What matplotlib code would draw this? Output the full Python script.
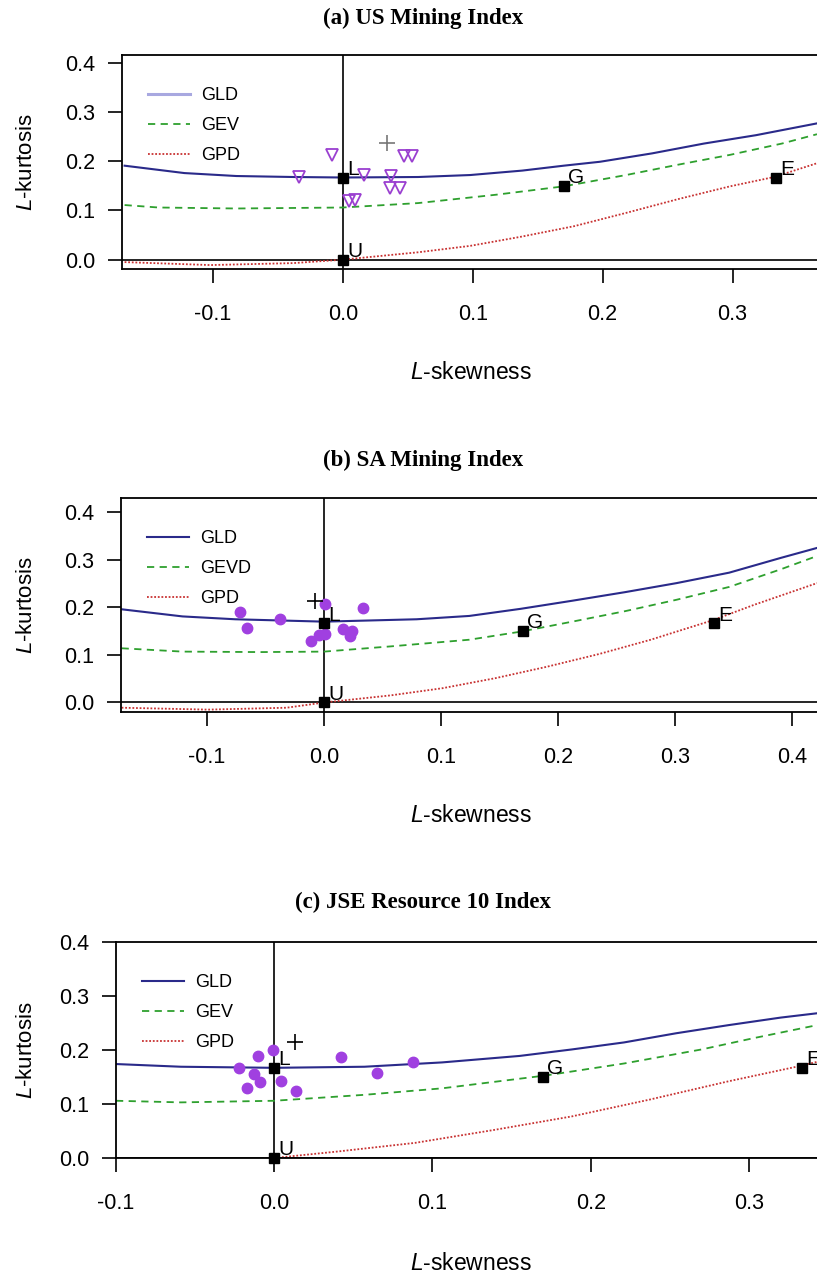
import numpy as np
import matplotlib
matplotlib.use('Agg')
import matplotlib.pyplot as plt
from matplotlib.lines import Line2D

plt.rcParams['font.family'] = ['Liberation Sans', 'DejaVu Sans']
plt.rcParams['mathtext.fontset'] = 'custom'
plt.rcParams['mathtext.it'] = 'Liberation Sans:italic'

# ---- panel (a) US Mining Index ----
gld_a_x = [-0.168, -0.122, -0.082, -0.038, 0.0, 0.058, 0.098, 0.138, 0.170, 0.198, 0.238, 0.278, 0.318, 0.365]
gld_a_y = [0.191, 0.176, 0.170, 0.168, 0.167, 0.168, 0.172, 0.181, 0.191, 0.199, 0.216, 0.236, 0.253, 0.277]
gev_a_x = [-0.168, -0.142, -0.082, 0.0, 0.058, 0.118, 0.170, 0.218, 0.258, 0.298, 0.338, 0.365]
gev_a_y = [0.111, 0.106, 0.104, 0.106, 0.115, 0.132, 0.149, 0.172, 0.193, 0.213, 0.236, 0.255]
gpd_a_x = [-0.168, -0.102, -0.038, 0.0, 0.058, 0.098, 0.138, 0.178, 0.218, 0.258, 0.298, 0.332, 0.365]
gpd_a_y = [-0.005, -0.011, -0.007, 0.0, 0.015, 0.028, 0.047, 0.068, 0.095, 0.123, 0.149, 0.168, 0.196]
obs_a_x = [-0.034, -0.008, 0.016, 0.037, 0.036, 0.044, 0.047, 0.053, 0.005, 0.009]
obs_a_y = [0.168, 0.212, 0.172, 0.170, 0.146, 0.146, 0.210, 0.210, 0.120, 0.122]
avg_a = (0.034, 0.238)

# ---- panel (b) SA Mining Index ----
gld_b_x = [-0.173, -0.121, -0.076, 0.0, 0.079, 0.124, 0.168, 0.212, 0.257, 0.301, 0.346, 0.390, 0.421]
gld_b_y = [0.196, 0.181, 0.175, 0.170, 0.175, 0.182, 0.197, 0.214, 0.232, 0.251, 0.273, 0.304, 0.325]
gev_b_x = [-0.173, -0.121, -0.054, 0.0, 0.057, 0.124, 0.168, 0.212, 0.257, 0.301, 0.346, 0.390, 0.421]
gev_b_y = [0.114, 0.107, 0.106, 0.107, 0.118, 0.132, 0.149, 0.170, 0.192, 0.216, 0.243, 0.280, 0.308]
gpd_b_x = [-0.173, -0.099, -0.032, 0.0, 0.057, 0.101, 0.146, 0.190, 0.235, 0.279, 0.332, 0.368, 0.421]
gpd_b_y = [-0.011, -0.015, -0.011, 0.0, 0.015, 0.030, 0.051, 0.075, 0.102, 0.132, 0.173, 0.206, 0.251]
obs_b_x = [-0.072, -0.066, -0.038, 0.001, 0.033, -0.011, -0.004, 0.001, 0.016, 0.024, 0.022]
obs_b_y = [0.190, 0.156, 0.176, 0.207, 0.198, 0.129, 0.141, 0.144, 0.154, 0.151, 0.140]
avg_b = (-0.008, 0.214)

# ---- panel (c) JSE Resource 10 Index ----
gld_c_x = [-0.100, -0.059, 0.0, 0.057, 0.106, 0.155, 0.188, 0.221, 0.254, 0.287, 0.320, 0.343]
gld_c_y = [0.174, 0.169, 0.167, 0.169, 0.177, 0.189, 0.201, 0.214, 0.231, 0.246, 0.260, 0.268]
gev_c_x = [-0.100, -0.059, 0.0, 0.057, 0.106, 0.172, 0.221, 0.270, 0.303, 0.343]
gev_c_y = [0.106, 0.103, 0.106, 0.117, 0.129, 0.153, 0.175, 0.201, 0.222, 0.246]
gpd_c_x = [-0.100, -0.040, 0.0, 0.040, 0.089, 0.139, 0.188, 0.237, 0.287, 0.330, 0.343]
gpd_c_y = [-0.010, -0.006, 0.0, 0.012, 0.028, 0.052, 0.077, 0.108, 0.142, 0.169, 0.178]
obs_c_x = [-0.022, -0.010, -0.001, -0.013, -0.009, -0.017, 0.004, 0.014, 0.042, 0.065, 0.088]
obs_c_y = [0.166, 0.189, 0.200, 0.156, 0.141, 0.129, 0.143, 0.124, 0.187, 0.158, 0.177]
avg_c = (0.013, 0.214)

# special distributions: L, U, G, E
sp_names = ['L', 'U', 'G', 'E']
sp_x = [0.0, 0.0, 0.1699, 0.3333]
sp_y = [0.1667, 0.0, 0.1504, 0.1667]

titles = ['(a) US Mining Index', '(b) SA Mining Index', '(c) JSE Resource 10 Index']
legend_labels = [['GLD', 'GEV', 'GPD'], ['GLD', 'GEVD', 'GPD'], ['GLD', 'GEV', 'GPD']]

navy = '#2a2a8a'
green = '#2ea02e'
red = '#c83232'
purple = '#a040e0'

W, H = 817, 1276
fig = plt.figure(figsize=(W / 100, H / 100), dpi=100)


def px_axes(l, t, r, b):
    return fig.add_axes([l / W, 1 - b / H, (r - l) / W, (b - t) / H])


panels = [
    dict(box=(122, 55, 817, 269), xlim=(-0.170, 0.365), ylim=(-0.019, 0.416),
         xt=[-0.1, 0.0, 0.1, 0.2, 0.3], curves=(gld_a_x, gld_a_y, gev_a_x, gev_a_y, gpd_a_x, gpd_a_y),
         obs=(obs_a_x, obs_a_y), avg=avg_a, title_y=18, xlab_y=372),
    dict(box=(121, 498, 817, 712), xlim=(-0.1735, 0.421), ylim=(-0.02, 0.43),
         xt=[-0.1, 0.0, 0.1, 0.2, 0.3, 0.4], curves=(gld_b_x, gld_b_y, gev_b_x, gev_b_y, gpd_b_x, gpd_b_y),
         obs=(obs_b_x, obs_b_y), avg=avg_b, title_y=460, xlab_y=815),
    dict(box=(116, 942, 817, 1158), xlim=(-0.1, 0.343), ylim=(0.0, 0.4),
         xt=[-0.1, 0.0, 0.1, 0.2, 0.3], curves=(gld_c_x, gld_c_y, gev_c_x, gev_c_y, gpd_c_x, gpd_c_y),
         obs=(obs_c_x, obs_c_y), avg=avg_c, title_y=902, xlab_y=1263),
]

for i, p in enumerate(panels):
    ax = px_axes(*p['box'])
    ax.set_xlim(*p['xlim'])
    ax.set_ylim(*p['ylim'])
    ax.spines['right'].set_visible(False)
    for s in ['left', 'top', 'bottom']:
        ax.spines[s].set_linewidth(1.3)

    ax.axhline(0, color='black', lw=1.2, zorder=1)
    ax.axvline(0, color='black', lw=1.2, zorder=1)

    gx, gy, ex, ey, px_, py_ = p['curves']
    ax.plot(gx, gy, color=navy, lw=1.5, zorder=2)
    ax.plot(ex, ey, color=green, lw=1.3, ls=(0, (4, 3)), zorder=2)
    ax.plot(px_, py_, color=red, lw=1.3, ls=(0, (1, 1)), zorder=2)

    ox, oy = p['obs']
    if i == 0:
        ax.plot(ox, oy, ls='none', marker='v', ms=9, mfc='none', mec='#9a3fd0', mew=1.3, zorder=3)
        ax.plot(*p['avg'], marker='+', color='#777777', ms=12, mew=1.2, zorder=3)
    else:
        ax.plot(ox, oy, ls='none', marker='o', ms=7.5, color=purple, zorder=3)
        ax.plot(*p['avg'], marker='+', color='black', ms=12, mew=1.2, zorder=3)

    ax.plot(sp_x, sp_y, ls='none', marker='s', ms=7, color='black', zorder=4, clip_on=False)
    for n, x, y in zip(sp_names, sp_x, sp_y):
        ax.annotate(n, (x, y), xytext=(3, -1), textcoords='offset points', fontsize=15,
                    ha='left', va='bottom', annotation_clip=False, clip_on=True)

    ax.set_yticks([0.0, 0.1, 0.2, 0.3, 0.4])
    ax.set_yticklabels(['0.0', '0.1', '0.2', '0.3', '0.4'])
    ax.set_xticks(p['xt'])
    ax.set_xticklabels(['%.1f' % v for v in p['xt']])
    ax.tick_params(axis='y', length=10, width=1.2, pad=9, labelsize=15.5)
    ax.tick_params(axis='x', length=10, width=1.2, pad=15, labelsize=15.5)

    l, t, r, b = p['box']
    fig.text(26 / W, 1 - (t + b) / 2 / H, '$L$-kurtosis', fontsize=16, rotation=90,
             ha='center', va='center')
    fig.text(471 / W, 1 - p['xlab_y'] / H, '$L$-skewness', fontsize=16.5, ha='center', va='center')
    fig.text(423 / W, 1 - p['title_y'] / H, titles[i], fontsize=16.5, fontweight='bold',
             family='Liberation Serif', ha='center', va='center')

    gld_col = '#a8a8e0' if i == 0 else navy
    handles = [Line2D([], [], color=gld_col, lw=2.2 if i == 0 else 1.5),
               Line2D([], [], color=green, lw=1.3, ls=(0, (4, 3))),
               Line2D([], [], color=red, lw=1.3, ls=(0, (1, 1)))]
    ax.legend(handles, legend_labels[i], loc='upper left', bbox_to_anchor=(26 / (r - l), 1 - 32 / (b - t)),
              frameon=False, fontsize=13, handlelength=2.3, handletextpad=0.65, labelspacing=0.72,
              borderpad=0, borderaxespad=0)

fig.savefig('out.png', dpi=100)
